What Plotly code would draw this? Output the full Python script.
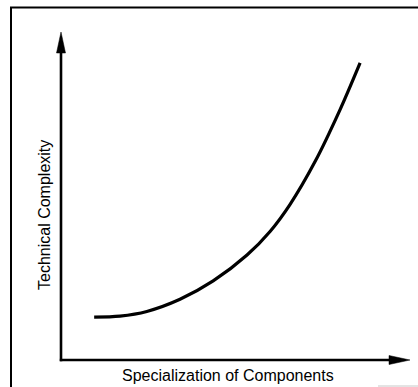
import plotly.graph_objects as go

# Curve: technical complexity rising with specialization of components
specialization = [0.95, 1.69, 2.46, 3.41, 4.36, 5.33, 5.99, 6.56, 7.28, 7.99, 8.57]
complexity = [1.31, 1.34, 1.48, 1.85, 2.41, 3.20, 3.92, 4.74, 6.05, 7.62, 9.06]

x_title = "Specialization of Components"
y_title = "Technical Complexity"
axis_max = 10

W, H = 418, 387
# pixel position of the origin and of the two arrow tips
ORIGIN_PX = (61, 360)
X_TIP_PX = 410
Y_TIP_PX = 32

# the plot area covers the whole figure; scale so the axes land where wanted
ux = axis_max / (X_TIP_PX - ORIGIN_PX[0])      # data units per pixel (x)
uy = axis_max / (ORIGIN_PX[1] - Y_TIP_PX)      # data units per pixel (y)
x_range = [-ORIGIN_PX[0] * ux, axis_max + (W - X_TIP_PX) * ux]
y_range = [-(H - ORIGIN_PX[1]) * uy, axis_max + Y_TIP_PX * uy]


def px_x(px):
    return px / W


def px_y(py):
    return 1 - py / H


fig = go.Figure()
fig.add_trace(go.Scatter(
    x=specialization, y=complexity, mode="lines",
    line=dict(color="black", width=3.2, shape="spline", smoothing=0.9),
    hoverinfo="skip", showlegend=False,
))

hidden_axis = dict(
    showgrid=False, zeroline=False, showticklabels=False, ticks="",
    showline=False, fixedrange=True,
)

head_len, head_half = 21, 4.5
hx, hy = head_len * ux, head_half * uy      # horizontal arrowhead in data units
vx, vy = head_half * ux, head_len * uy      # vertical arrowhead in data units

shapes = [
    # axes
    dict(type="line", xref="x", yref="y", x0=-1.2 * ux, y0=0, x1=axis_max - hx, y1=0,
         line=dict(color="black", width=2.6)),
    dict(type="line", xref="x", yref="y", x0=0, y0=-1.2 * uy, x1=0, y1=axis_max - vy,
         line=dict(color="black", width=2.6)),
    # arrowheads
    dict(type="path", xref="x", yref="y",
         path=f"M{axis_max},0 L{axis_max - hx},{hy} L{axis_max - hx},{-hy} Z",
         fillcolor="black", line=dict(color="black", width=0.5)),
    dict(type="path", xref="x", yref="y",
         path=f"M0,{axis_max} L{-vx},{axis_max - vy} L{vx},{axis_max - vy} Z",
         fillcolor="black", line=dict(color="black", width=0.5)),
    # frame: left and top edges
    dict(type="line", xref="paper", yref="paper",
         x0=px_x(11), x1=px_x(11), y0=px_y(H + 2), y1=px_y(7),
         line=dict(color="black", width=2)),
    dict(type="line", xref="paper", yref="paper",
         x0=px_x(10), x1=px_x(W + 2), y0=px_y(7.5), y1=px_y(7.5),
         line=dict(color="black", width=2)),
    # faint edge at the lower right
    dict(type="line", xref="paper", yref="paper",
         x0=px_x(378), x1=px_x(W + 2), y0=px_y(386), y1=px_y(386),
         line=dict(color="#c8c8c8", width=1)),
]

font = dict(family="Liberation Sans, Arial, sans-serif", size=16, color="black")
annotations = [
    dict(text=x_title, xref="paper", yref="paper",
         x=px_x(228), y=px_y(375),
         xanchor="center", yanchor="middle", showarrow=False, font=font),
    dict(text=y_title, xref="paper", yref="paper",
         x=px_x(44), y=px_y(215),
         xanchor="center", yanchor="middle", showarrow=False, font=font,
         textangle=-90),
]

fig.update_layout(
    width=W, height=H,
    margin=dict(l=0, r=0, t=0, b=0, pad=0),
    paper_bgcolor="white", plot_bgcolor="white",
    xaxis=dict(hidden_axis, range=x_range),
    yaxis=dict(hidden_axis, range=y_range),
    shapes=shapes, annotations=annotations,
)

fig.write_html("out.html", config={"displayModeBar": False})
